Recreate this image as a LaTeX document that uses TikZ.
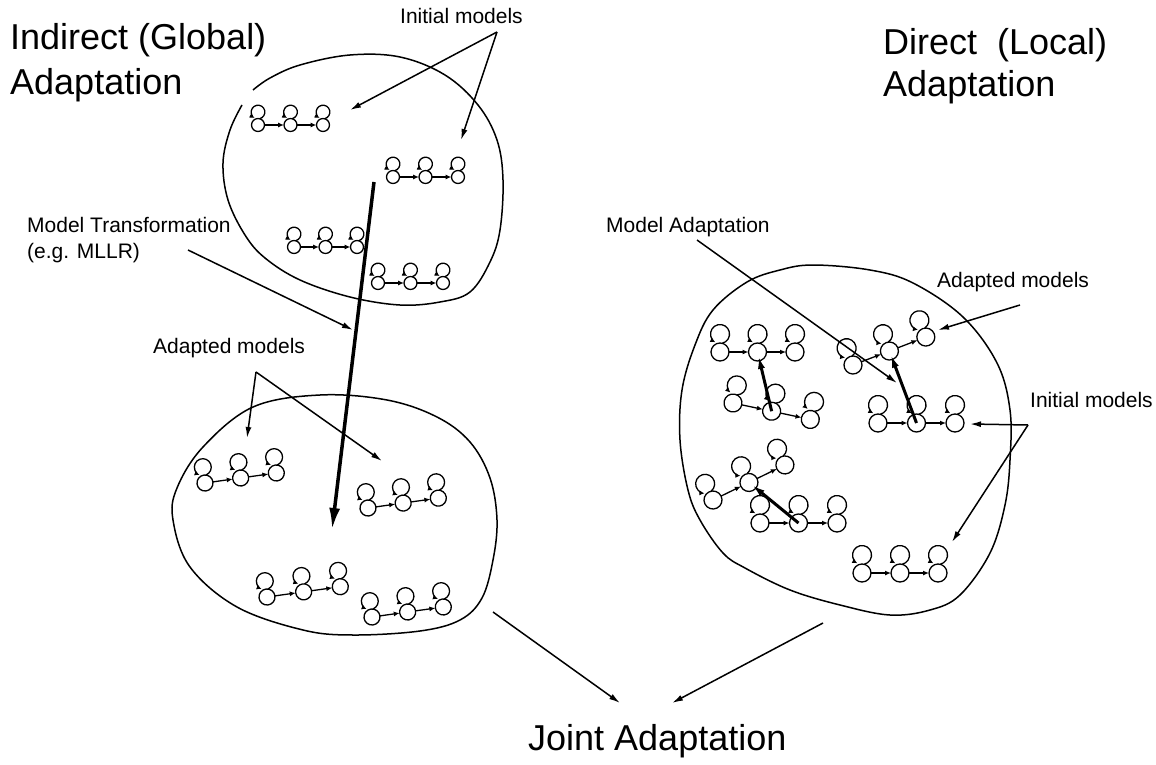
\documentclass[tikz,border=0pt]{standalone}
\usepackage{fontspec}
\setmainfont{Liberation Sans}
\usetikzlibrary{arrows.meta}
\tikzset{
  hst/.style={circle,draw,line width=1.3pt,minimum size=18pt,inner sep=0pt,outer sep=0pt},
  htr/.style={line width=1.3pt,-{Latex[length=6pt,width=5pt]}},
  hlp/.style={line width=1.3pt,-{Latex[length=5pt,width=5pt]}},
  blob/.style={line width=1.5pt},
  thinarr/.style={line width=1.5pt,-{Latex[length=11pt,width=6pt]}},
  bigarr/.style={line width=3.5pt,-{Latex[length=22pt,width=11pt]}},
  adarr/.style={line width=3pt,-{Latex[length=14pt,width=7pt]}},
  ttl/.style={inner sep=0pt,anchor=base west,font=\fontsize{36}{43}\selectfont},
  lab/.style={inner sep=0pt,anchor=base west,font=\fontsize{21}{25}\selectfont},
}
\newcommand{\hmmchain}[6]{%
  \begin{scope}[shift={(#2,-#3)}, rotate=#4, scale=#5, transform shape]
    \node[hst] (#1a) at (0,0) {};
    \node[hst] (#1b) at ({#6/#5},0) {};
    \node[hst] (#1c) at ({2*#6/#5},0) {};
    \draw[htr] (#1a) -- (#1b);
    \draw[htr] (#1b) -- (#1c);
    \foreach \s in {a,b,c}{\draw[hlp] (#1\s.76) arc[start angle=-77, end angle=240, radius=9.5];}
  \end{scope}}
\begin{document}
\begin{tikzpicture}[x=1pt,y=1pt]
\fill[white] (0,0) rectangle (1156,-765);
\path[use as bounding box] (0,0) rectangle (1156,-765);

% titles
\node[ttl] (ig1) at (10,-50) {Indirect (Global)};
\node[ttl] (ig2) at (10,-95) {Adaptation};
\node[ttl] (dl1) at (883,-55) {Direct\ \ (Local)};
\node[ttl] (dl2) at (883,-97) {Adaptation};
\node[ttl] (ja) at (528,-750) {Joint Adaptation};

% labels
\node[lab] (initT) at (400,-24) {Initial models};
\node[lab] (mt1) at (27,-232) {Model Transformation};
\node[lab] (mt2) at (27,-258) {(e.g. MLLR)};
\node[lab] (adL) at (153,-353) {Adapted models};
\node[lab] (ma) at (606,-232) {Model Adaptation};
\node[lab] (adR) at (937,-287) {Adapted models};
\node[lab] (initR) at (1030,-407) {Initial models};

% blobs
\draw[blob] plot[smooth, tension=0.6] coordinates {(242,-105) (230,-130) (223,-163) (228,-200) (245,-235) (265,-258) (300,-280) (350,-297) (400,-305) (440,-302) (470,-292) (490,-262) (500,-230) (503,-180) (497,-140) (478,-105) (445,-75) (400,-57) (350,-55) (300,-65) (270,-78) (253,-90)};
\draw[blob] plot[smooth cycle, tension=0.6] coordinates {(320,-395) (387,-400) (437,-417) (470,-442) (490,-478) (497,-520) (493,-560) (482,-598) (460,-620) (420,-631) (353,-635) (303,-630) (237,-607) (190,-567) (173,-520) (177,-488) (203,-447) (253,-407)};
\draw[blob] plot[smooth cycle, tension=0.6] coordinates {(813,-265) (870,-270) (913,-283) (963,-317) (997,-363) (1010,-410) (1010,-460) (1005,-505) (990,-553) (960,-595) (930,-610) (890,-615) (840,-605) (790,-590) (745,-568) (723,-553) (700,-520) (688,-490) (680,-440) (682,-390) (695,-345) (713,-310) (747,-282) (780,-270)};

% models, top blob
\hmmchain{ta}{258}{125}{0}{0.72}{32.5}
\hmmchain{tb}{393}{177}{0}{0.72}{32.5}
\hmmchain{tc}{294}{247}{0}{0.72}{31.5}
\hmmchain{td}{378}{283}{0}{0.72}{32.5}
% models, bottom-left blob
\hmmchain{ba}{205}{483}{8}{0.89}{36}
\hmmchain{bb}{368}{508}{8}{0.89}{35.5}
\hmmchain{bc}{267}{597}{8}{0.89}{37}
\hmmchain{bd}{372}{617}{8}{0.89}{36}
% models, right blob
\hmmchain{ra}{720}{352}{0}{1}{37.5}
\hmmchain{rb}{733}{403}{-12}{1}{39.5}
\hmmchain{rc}{853}{365}{21}{1}{39}
\hmmchain{rd}{878}{423}{0}{1}{38.5}
\hmmchain{re}{713}{500}{26}{1}{40}
\hmmchain{rf}{760}{523}{0}{1}{38.5}
\hmmchain{rg}{862}{573}{0}{1}{38}

% adaptation arrows in right blob
\draw[adarr, shorten >=3pt] (rbb.center) -- (rab.center);
\draw[adarr, shorten >=3pt] (rdb.center) -- (rcb.center);
\draw[adarr, shorten >=3pt] (rfb.center) -- (reb.center);

% big transformation arrow
\coordinate (mtS) at (374,-182);
\coordinate (mtE) at (332,-530);
\draw[bigarr] (mtS) -- (mtE);

% label arrows
\coordinate (mtl) at (188,-250);
\coordinate (mtT) at (353,-330);
\draw[thinarr] (mtl) -- (mtT);

\coordinate (itA) at (497,-32);
\coordinate (itT1) at (350,-110);
\coordinate (itT2) at (461,-140);
\draw[thinarr] (itA) -- (itT1);
\draw[thinarr] (itA) -- (itT2);

\coordinate (alA) at (256,-372);
\coordinate (alT1) at (247,-438);
\coordinate (alT2) at (382,-461);
\draw[thinarr] (alA) -- (alT1);
\draw[thinarr] (alA) -- (alT2);

\coordinate (arS) at (1020,-305);
\coordinate (arT) at (938,-330);
\draw[thinarr] (arS) -- (arT);

\coordinate (irA) at (1028,-425);
\coordinate (irT1) at (970,-424);
\coordinate (irT2) at (952,-542);
\draw[thinarr] (irA) -- (irT1);
\draw[thinarr] (irA) -- (irT2);

\coordinate (maS) at (697,-240);
\coordinate (maT) at (897,-383);
\draw[thinarr] (maS) -- (maT);

\coordinate (jlS) at (493,-612);
\coordinate (jlT) at (620,-703);
\coordinate (jrS) at (823,-623);
\coordinate (jrT) at (672,-703);
\draw[thinarr] (jlS) -- (jlT);
\draw[thinarr] (jrS) -- (jrT);
\end{tikzpicture}
\end{document}
